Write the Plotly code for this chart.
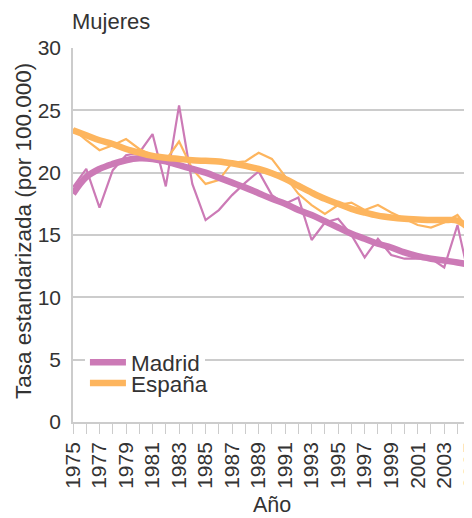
import plotly.graph_objects as go

# Mortality rate, women (tasa estandarizada por 100.000)
years = list(range(1975, 2006))
madrid = [18.85, 20.3, 17.2, 20.2, 21.4, 21.6, 23.1, 18.9, 25.4, 19.1, 16.2,
          17.0, 18.2, 19.2, 20.1, 18.2, 17.5, 18.0, 14.6, 16.0, 16.3, 15.0,
          13.2, 14.7, 13.4, 13.1, 13.1, 13.1, 12.4, 15.8, 11.0]
espana = [23.5, 22.6, 21.8, 22.2, 22.7, 21.9, 21.4, 21.0, 22.5, 20.3, 19.1,
          19.4, 20.8, 20.9, 21.6, 21.1, 19.7, 18.3, 17.4, 16.7, 17.4, 17.6,
          17.0, 17.4, 16.8, 16.3, 15.8, 15.6, 16.0, 16.6, 15.2]
# smoothed trends
madrid_trend = [18.3, 19.65, 20.3, 20.7, 21.0, 21.15, 21.1, 20.9, 20.6, 20.3, 20.0,
                19.6, 19.2, 18.8, 18.35, 17.9, 17.5, 17.0, 16.6, 16.1, 15.6, 15.1,
                14.7, 14.3, 14.0, 13.6, 13.3, 13.1, 12.95, 12.8, 12.6]
espana_trend = [23.4, 23.0, 22.6, 22.3, 21.9, 21.6, 21.35, 21.2, 21.1, 21.0, 20.95,
                20.9, 20.75, 20.55, 20.3, 19.95, 19.5, 18.95, 18.4, 17.9, 17.5, 17.1,
                16.8, 16.55, 16.4, 16.3, 16.25, 16.2, 16.2, 16.15, 15.4]

PINK = "#cc7ab6"
ORANGE = "#fdb55e"
GRID = "#cccccc"
TEXT = "#333333"
FONT = "Liberation Sans, Arial, sans-serif"

fig = go.Figure()
fig.add_trace(go.Scatter(x=years, y=madrid, mode="lines", showlegend=False,
                         line=dict(color=PINK, width=2.2)))
fig.add_trace(go.Scatter(x=years, y=espana, mode="lines", showlegend=False,
                         line=dict(color=ORANGE, width=2.2)))
fig.add_trace(go.Scatter(x=years, y=madrid_trend, mode="lines", name="Madrid",
                         line=dict(color=PINK, width=6.5, shape="spline"), legend="legend"))
fig.add_trace(go.Scatter(x=years, y=espana_trend, mode="lines", name="España",
                         line=dict(color=ORANGE, width=6.5, shape="spline"), legend="legend2"))

# page has an 8px body margin, so the figure is sized to fit inside the window
fig.update_layout(
    width=464, height=510,
    margin=dict(l=65, r=1, t=40, b=96),
    paper_bgcolor="white", plot_bgcolor="white",
    font=dict(family=FONT, size=21, color=TEXT),
    legend=dict(x=0.03, y=0.159, xanchor="left", yanchor="middle", bgcolor="white",
                font=dict(size=22.5), borderwidth=0, itemwidth=36),
    legend2=dict(x=0.03, y=0.103, xanchor="left", yanchor="middle",
                 bgcolor="rgba(0,0,0,0)", font=dict(size=22.5), borderwidth=0, itemwidth=36),
    annotations=[
        dict(text="Mujeres", xref="paper", yref="paper", x=0, y=1, xanchor="left",
             yanchor="bottom", xshift=-3, yshift=12, showarrow=False, font=dict(size=22)),
        dict(text="Tasa estandarizada (por 100.000)", xref="paper", yref="paper",
             x=-0.126, y=0.51, xanchor="center", yanchor="middle", textangle=-90,
             showarrow=False, font=dict(size=22.5)),
        dict(text="Año", xref="paper", yref="paper", x=0.5, y=-0.223,
             xanchor="center", yanchor="middle", showarrow=False, font=dict(size=21.5)),
    ],
)
fig.update_xaxes(
    range=[1975, 2005.02], tickmode="linear", tick0=1975, dtick=2, tickangle=-90,
    ticks="outside", ticklen=10, tickcolor=GRID, tickwidth=1,
    minor=dict(dtick=1, ticks="outside", ticklen=10, tickcolor=GRID),
    showline=True, linecolor=GRID, linewidth=1.5, showgrid=False, zeroline=False,
    automargin=False, ticklabelstandoff=0, ticklabeloverflow="allow",
)
fig.update_yaxes(
    range=[0, 30], tickmode="linear", dtick=5, showgrid=True, gridcolor=GRID,
    gridwidth=1.5, showline=True, linecolor=GRID, linewidth=1.5, mirror=True,
    zeroline=False, ticks="", automargin=False, ticklabelstandoff=6,
)

fig.write_html("out.html")
